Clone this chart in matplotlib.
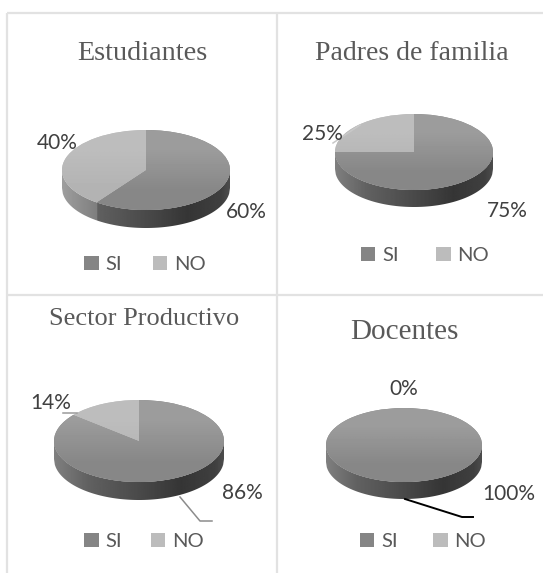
import numpy as np
import matplotlib
matplotlib.use("Agg")
import matplotlib.pyplot as plt

W, H = 543, 573

titles = ["Estudiantes", "Padres de familia", "Sector Productivo", "Docentes"]
legend_labels = ["SI", "NO"]
si_values = [60, 75, 86, 100]
no_values = [40, 25, 14, 0]

# pixel layout, one row per panel
pie_boxes = [(146, 170, 84, 40, 18), (414, 152, 79, 38, 17), (139, 441, 85, 41, 18), (404, 445, 78, 37, 17)]
title_pos = [(142, 53), (412, 53), (144, 319), (404, 332)]
title_sizes = [20.3, 20, 19, 21]
si_label_pos = [(246, 212), (507, 211), (242, 493), (509, 494)]
no_label_pos = [(57, 143), (322, 134), (51, 403), (404, 389)]
legend_pos = [(145, 264.5), (425, 255.5), (144, 541.5), (423, 541.5)]
legend_gaps = [1.5, 1.85, 1.4, 1.75]

grid_lines = [
    ([7, 543], [13, 13]),
    ([7, 7], [13, 573]),
    ([277, 277], [13, 573]),
    ([7, 543], [295, 295]),
]
leader_lines = [
    ([333, 345, 360], [143, 135, 125], "#c8c8c8"),
    ([63, 77], [413, 413], "#9a9a9a"),
    ([180, 200, 212], [497, 521, 521], "#8c8c8c"),
    ([405, 462, 473], [499, 517, 517], "#000000"),
]

fig = plt.figure(figsize=(W / 100, H / 100), dpi=100)

over = fig.add_axes([0, 0, 1, 1], zorder=5)
over.set_xlim(0, W)
over.set_ylim(H, 0)
over.axis("off")

for xs, ys in grid_lines:
    over.plot(xs, ys, color="#e2e2e2", lw=1.6, solid_capstyle="butt")
for xs, ys, c in leader_lines:
    over.plot(xs, ys, color=c, lw=1.1 if c != "#000000" else 1.4)


def draw_panel(box, si, no, legend_xy, gap):
    cx, cy, rx, ry, depth = box
    d = depth / ry
    ax = fig.add_axes([(cx - rx) / W, 1 - (cy + ry + depth) / H, 2 * rx / W, (2 * ry + depth) / H])
    wedges, _ = ax.pie([si, no], colors=["#858585", "#bcbcbc"], startangle=90, counterclock=False,
                       radius=1, wedgeprops={"linewidth": 0, "zorder": 2})

    # side of the disc, shaded left to right
    x = np.linspace(-1, 1, 200)
    y = -np.sqrt(1 - x**2)
    rim = ax.fill_between(x, y, y - d, color="none", linewidth=0)
    shade = np.interp(x, [-1, -0.6, 0, 0.5, 0.9, 1], [0.50, 0.38, 0.29, 0.21, 0.25, 0.30])
    angle = np.deg2rad(90 + 360 * no / (si + no))
    if no > 0 and np.sin(angle) < 0:
        shade = np.where(x < np.cos(angle), shade + 0.12, shade)
    im = ax.imshow(shade[None, :], cmap="gray", vmin=0, vmax=1, extent=(-1, 1, -1 - d, 1),
                   aspect="auto", zorder=1)
    im.set_clip_path(rim.get_paths()[0], rim.get_transform())

    # soft vertical shading on the top face
    for wedge, top, low in zip(wedges, [0.61, 0.74], [0.53, 0.70]):
        g = ax.imshow(np.array([[top], [low]]), cmap="gray", vmin=0, vmax=1, extent=(-1, 1, -1, 1),
                      aspect="auto", zorder=3, interpolation="bilinear")
        g.set_clip_path(wedge)

    ax.set_aspect("auto")
    ax.set_xlim(-1, 1)
    ax.set_ylim(-1 - d, 1)
    ax.axis("off")
    ax.legend(wedges, legend_labels, ncol=2, loc="center", bbox_to_anchor=legend_xy,
              bbox_transform=over.transData, frameon=False, prop={"family": "Lato", "size": 14.5},
              labelcolor="#595959", handlelength=0.72, handleheight=0.72, handletextpad=0.35,
              columnspacing=gap, borderpad=0, borderaxespad=0)


for i, name in enumerate(titles):
    draw_panel(pie_boxes[i], si_values[i], no_values[i], legend_pos[i], legend_gaps[i])
    over.text(*title_pos[i], name, family="Liberation Serif", fontsize=title_sizes[i], color="#595959",
              ha="center", va="center")
    over.text(*si_label_pos[i], f"{si_values[i]}%", family="Lato", fontsize=15, color="#404040",
              ha="center", va="center")
    over.text(*no_label_pos[i], f"{no_values[i]}%", family="Lato", fontsize=15, color="#404040",
              ha="center", va="center")

fig.savefig("out.png", dpi=100, facecolor="white")
